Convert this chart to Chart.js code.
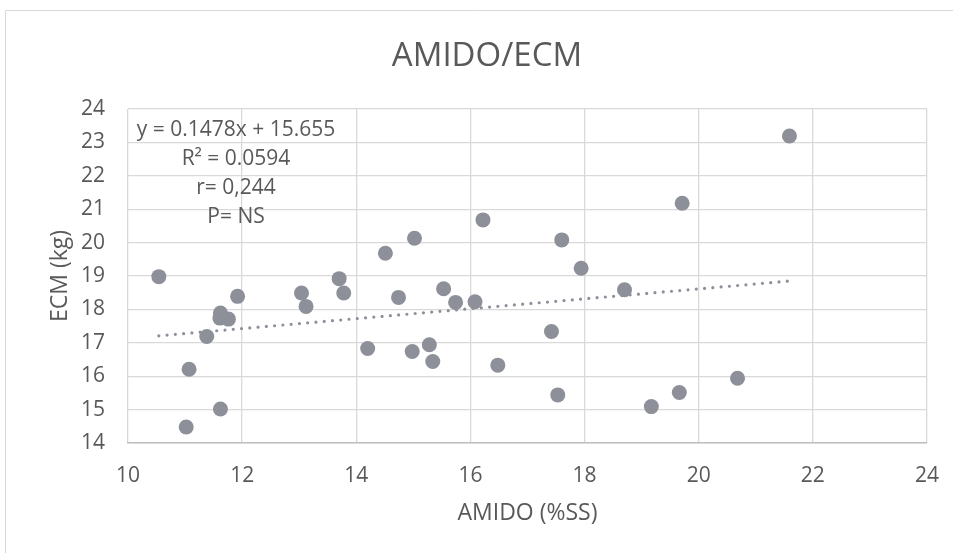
<!DOCTYPE html>
<html lang="pt">
<head>
    <meta charset="UTF-8">
    <title>AMIDO/ECM</title>
    <script src="https://cdn.jsdelivr.net/npm/chart.js"></script>
    <style>
        html, body { margin: 0; padding: 0; background: #fff; }
        #wrap { width: 953px; height: 553px; }
    </style>
</head>
<body>
    <div id="wrap"><canvas id="chart" width="953" height="553"></canvas></div>
    <script>
        // AMIDO (%SS) vs ECM (kg)
        let amido = [10.54, 11.07, 11.02, 11.62, 11.38, 11.62, 11.61, 11.76, 11.92, 13.04, 13.12, 13.70,
                     13.78, 14.20, 14.51, 14.74, 15.02, 14.98, 15.28, 15.34, 15.53, 15.74, 16.08, 16.22,
                     16.48, 17.42, 17.53, 17.60, 17.94, 18.70, 19.17, 19.66, 19.71, 20.68, 21.59];
        let ecm = [18.98, 16.21, 14.48, 15.02, 17.19, 17.89, 17.74, 17.71, 18.39, 18.49, 18.09, 18.92,
                   18.49, 16.83, 19.68, 18.36, 20.13, 16.74, 16.94, 16.44, 18.62, 18.21, 18.23, 20.68,
                   16.33, 17.34, 15.44, 20.08, 19.23, 18.59, 15.09, 15.51, 21.18, 15.94, 23.19];

        // linear trend line ends (y = 0.1478x + 15.655)
        let trendX = [10.54, 21.59];
        let trendY = [17.21, 18.85];

        let xTicks = [10, 12, 14, 16, 18, 20, 22, 24];
        let yTicks = [14, 15, 16, 17, 18, 19, 20, 21, 22, 23, 24];

        let titleText = "AMIDO/ECM";
        let xTitle = "AMIDO (%SS)";
        let yTitle = "ECM (kg)";
        let notes = ["y = 0.1478x + 15.655", "R\u00b2 = 0.0594", "r= 0,244", "P= NS"];

        let grey = "#8d9099";
        let textGrey = "#595959";
        let font = "'Open Sans', sans-serif";

        let points = amido.map((x, i) => ({ x: x, y: ecm[i] }));
        let trend = trendX.map((x, i) => ({ x: x, y: trendY[i] }));

        // frame, titles and the trend-line label
        let extras = {
            id: "extras",
            beforeDraw(chart) {
                let ctx = chart.ctx;
                ctx.save();
                ctx.strokeStyle = "#d9d9d9";
                ctx.lineWidth = 1;
                ctx.beginPath();
                ctx.moveTo(5.5, 553);
                ctx.lineTo(5.5, 10.5);
                ctx.lineTo(953, 10.5);
                ctx.stroke();
                ctx.restore();
            },
            afterDraw(chart) {
                let ctx = chart.ctx;
                let area = chart.chartArea;
                ctx.save();
                ctx.fillStyle = textGrey;
                ctx.textAlign = "center";
                ctx.textBaseline = "middle";
                ctx.font = "33px " + font;
                ctx.fillText(titleText, 487, 57);
                ctx.font = "21px " + font;
                let ys = [130, 159, 188, 217];
                notes.forEach((t, i) => ctx.fillText(t, 236, ys[i]));
                // y axis title
                ctx.font = "23px " + font;
                ctx.translate(60, (area.top + area.bottom) / 2);
                ctx.rotate(-Math.PI / 2);
                ctx.fillText(yTitle, 0, 0);
                ctx.restore();
            }
        };

        new Chart(document.getElementById("chart"), {
            type: "scatter",
            data: {
                datasets: [
                    {
                        label: "ECM",
                        data: points,
                        backgroundColor: grey,
                        borderWidth: 0,
                        pointRadius: 7.5,
                        order: 2
                    },
                    {
                        label: "Linear",
                        data: trend,
                        showLine: true,
                        borderColor: grey,
                        borderWidth: 3.2,
                        borderDash: [0, 8.3],
                        borderCapStyle: "round",
                        pointRadius: 0,
                        fill: false,
                        order: 1
                    }
                ]
            },
            options: {
                responsive: false,
                animation: false,
                layout: { padding: { left: 0, right: 26, top: 109, bottom: 0 } },
                plugins: {
                    legend: { display: false },
                    tooltip: { enabled: false },
                    title: { display: false }
                },
                scales: {
                    x: {
                        type: "linear",
                        min: 10,
                        max: 24,
                        afterFit: s => { s.height = 110; s.paddingLeft = 0; s.paddingRight = 0; },
                        afterBuildTicks: s => { s.ticks = xTicks.map(v => ({ value: v })); },
                        grid: { color: "#d9d9d9", lineWidth: 1.3, drawTicks: false },
                        border: { display: true, color: "#bfbfbf", width: 1.5 },
                        ticks: { color: textGrey, font: { family: font, size: 21 }, padding: 20, maxRotation: 0 },
                        title: { display: true, text: xTitle, color: textGrey, font: { family: font, size: 23 }, padding: { top: 0, bottom: 26 } }
                    },
                    y: {
                        type: "linear",
                        min: 14,
                        max: 24,
                        afterFit: s => { s.width = 128; },
                        afterBuildTicks: s => { s.ticks = yTicks.map(v => ({ value: v })); },
                        grid: { color: "#d9d9d9", lineWidth: 1.3, drawTicks: false },
                        border: { display: false },
                        ticks: { color: textGrey, font: { family: font, size: 21 }, padding: 23 },
                        title: { display: false, text: yTitle }
                    }
                }
            },
            plugins: [extras]
        });
    </script>
</body>
</html>
